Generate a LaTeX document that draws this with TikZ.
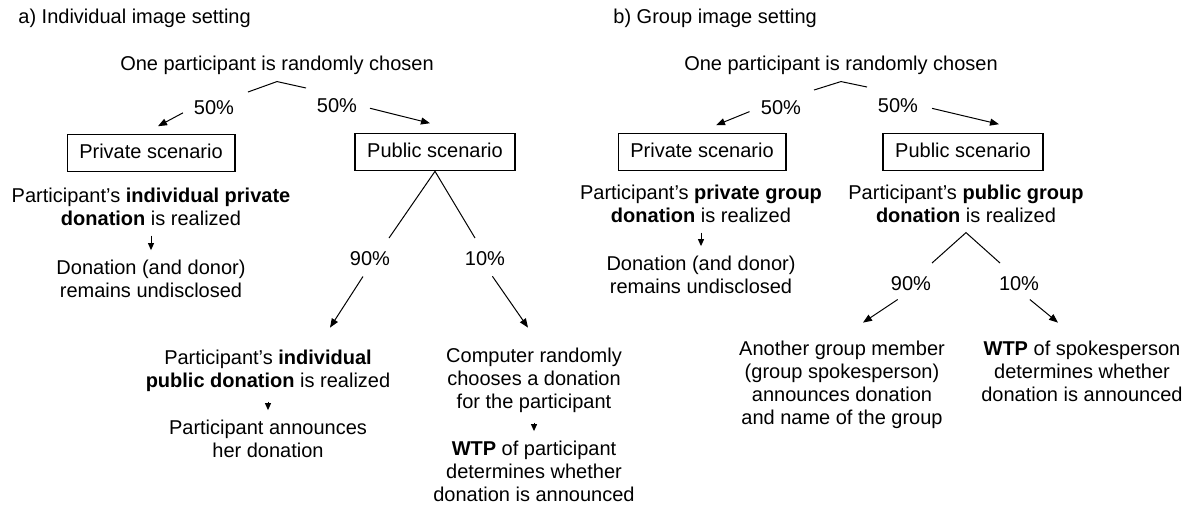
\documentclass[tikz,border=0pt]{standalone}
\usepackage{fontspec}
\setmainfont{Liberation Sans}
\usetikzlibrary{arrows.meta,positioning}

\begin{document}
\begin{tikzpicture}[x=0.5pt, y=-0.5pt,
                   every node/.style={font=\fontsize{10}{11.5}\selectfont, inner sep=0pt, align=center, anchor=base},
                   box/.style={draw, line width=0.8pt, inner xsep=6pt, inner ysep=4.5pt, text height=7.5pt, text depth=2pt, anchor=center},
                   link/.style={line width=0.5pt},
                   arr/.style={line width=0.5pt, -{Triangle[length=4.5pt,width=3.5pt]}},
                   down/.style={line width=0.5pt, -{Triangle[length=3.5pt,width=3pt]}, shorten <=5pt, shorten >=4.5pt}]
          \useasboundingbox (0,0) rectangle (1193,511);
          \node[anchor=base west] (ta) at (18,23) {a) Individual image setting};
          \node[inner ysep=3.5pt] (roota) at (277,70) {One participant is randomly chosen};
          \node (pla) at (214,114) {50\%};
          \node (pra) at (337,112) {50\%};
          \node[box] (priva) at (151,153) {Private scenario};
          \node[box] (puba) at (435,152) {Public scenario};
          \node (pta) at (151,225) {Participant's \textbf{individual private}\\\textbf{donation} is realized};
          \node (dna) at (151,297) {Donation (and donor)\\remains undisclosed};
          \node (n90a) at (370,265) {90\%};
          \node (n10a) at (485,265) {10\%};
          \node (ptpa) at (268,387) {Participant's \textbf{individual}\\\textbf{public donation} is realized};
          \node (pan) at (268,457) {Participant announces\\her donation};
          \node (cra) at (534,408) {Computer randomly\\chooses a donation\\for the participant};
          \node (wtpa) at (534,501) {\textbf{WTP} of participant\\determines whether\\donation is announced};
          \coordinate (la) at (248,92);
          \coordinate (ra) at (306,88);
          \coordinate (l90a) at (389,238);
          \coordinate (l10a) at (475,238);
          \draw[link] (la) -- (roota.south) -- (ra);
          \draw[arr, shorten <=6pt] (pla.west) -- ([shift={(3.5pt,3.75pt)}]priva.north);
          \draw[arr, shorten <=6.5pt] (pra.east) -- ([shift={(-2.5pt,4.75pt)}]puba.north);
          \draw[down] (pta) -- (dna);
          \draw[link] (l90a) -- (puba.south) -- (l10a);
          \draw[arr, shorten <=6.5pt] (n90a.south) -- ([shift={(31pt,10.75pt)}]ptpa.north);
          \draw[arr, shorten <=6.5pt] (n10a.south) -- ([shift={(-3pt,9.75pt)}]cra.north);
          \draw[down] (ptpa) -- (pan);
          \draw[down] (cra) -- (wtpa);
          \node[anchor=base west] (tb) at (613,23) {b) Group image setting};
          \node[inner ysep=3.5pt] (rootb) at (841,70) {One participant is randomly chosen};
          \node (plb) at (781,114) {50\%};
          \node (prb) at (898,112) {50\%};
          \node[box] (privb) at (702,152) {Private scenario};
          \node[box] (pubb) at (963,152) {Public scenario};
          \node (ptb) at (701,222) {Participant's \textbf{private group}\\\textbf{donation} is realized};
          \node (dnb) at (701,293) {Donation (and donor)\\remains undisclosed};
          \node[inner ysep=5pt] (ppb) at (966,222) {Participant's \textbf{public group}\\\textbf{donation} is realized};
          \node (n90b) at (911,290) {90\%};
          \node (n10b) at (1019,290) {10\%};
          \node (agm) at (842,424) {Another group member\\(group spokesperson)\\announces donation\\and name of the group};
          \node (wtpb) at (1082,401) {\textbf{WTP} of spokesperson\\determines whether\\donation is announced};
          \coordinate (lb) at (814,90);
          \coordinate (rb) at (867,87);
          \coordinate (l90b) at (932,263);
          \coordinate (l10b) at (1000,263);
          \draw[link] (lb) -- (rootb.south) -- (rb);
          \draw[arr, shorten <=6pt] (plb.west) -- ([shift={(7pt,3.75pt)}]privb.north);
          \draw[arr, shorten <=7pt] (prb.east) -- ([shift={(18pt,4.25pt)}]pubb.north);
          \draw[down] (ptb) -- (dnb);
          \draw[link] (l90b) -- (ppb.south) -- (l10b);
          \draw[arr, shorten <=8pt] (n90b.south) -- ([shift={(10.5pt,8.75pt)}]agm.north);
          \draw[arr, shorten <=7pt] (n10b.south) -- ([shift={(-12pt,8.75pt)}]wtpb.north);
        \end{tikzpicture}
\end{document}
